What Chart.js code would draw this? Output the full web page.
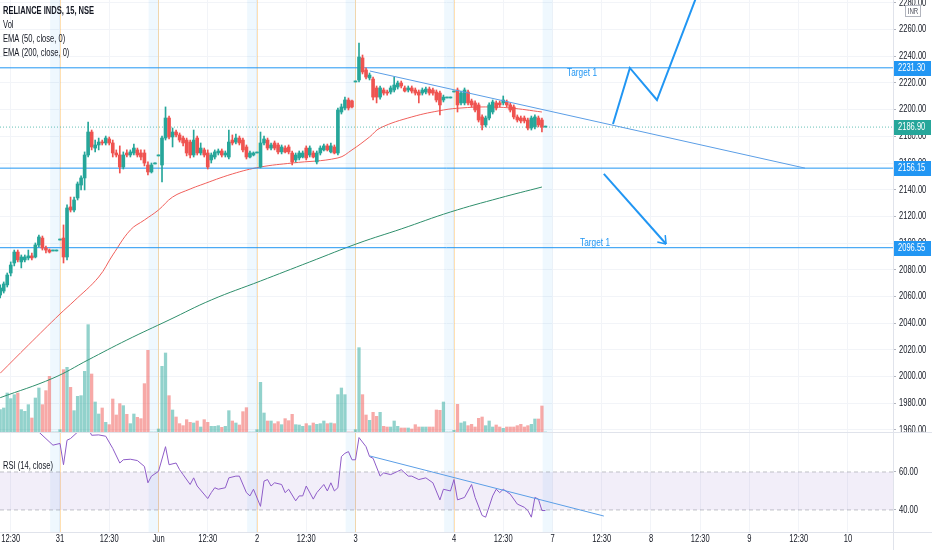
<!DOCTYPE html>
<html>
<head>
<meta charset="utf-8">
<script src="https://cdn.jsdelivr.net/npm/chart.js@4.4.0/dist/chart.umd.min.js"></script>
<style>
  html, body { margin: 0; padding: 0; background: #fff; }
  #wrap { position: relative; width: 932px; height: 550px; overflow: hidden; background: #fff; }
  #priceCanvas { position: absolute; left: 0; top: 0; }
  #rsiCanvas { position: absolute; left: 0; top: 433px; }
  .sep { position: absolute; background: #e0e3eb; }
</style>
</head>
<body>
<div id="wrap">
  <canvas id="priceCanvas" width="932" height="432"></canvas>
  <canvas id="rsiCanvas" width="932" height="117"></canvas>
  <div class="sep" style="left:0;top:432px;width:932px;height:1px"></div>
  <div class="sep" style="left:0;top:532px;width:932px;height:1px"></div>
  <div class="sep" style="left:893px;top:0;width:1px;height:550px"></div>
</div>
<script>
// slot = one 15 min bar, 28 slots per session (09:00 .. 15:45), slot 0 = 31 May 09:00
const firstSlot = -17;

const opens = [
  2061.1, 2064.1, 2068.7, 2077.6, 2085.1, 2093.3, 2085.9, 2087.4, 2088.9, 2090.4, 2089.6, 2098.6, 2103.8, 2096.3, 2094.8, 2094.1, 2094.1,
  2102.3, 2103.8, 2089.6, 2127.1, 2124.8, 2133.8, 2143.5, 2148.8, 2166.0, 2183.2, 2171.2, 2173.5, 2175.7, 2175.0, 2178.0, 2175.0, 2167.5, 2166.0, 2157.0, 2167.5, 2166.0, 2167.5, 2169.8, 2167.5, 2167.5, 2158.5, 2153.3, 2159.3,
  2165.3, 2158.5, 2178.7, 2193.7, 2179.5, 2183.2, 2181.0, 2178.7, 2177.2, 2175.7, 2166.0, 2178.7, 2167.5, 2169.8, 2167.5, 2162.3, 2164.5, 2167.5, 2169.0, 2166.0, 2164.5, 2177.2, 2175.7, 2178.7, 2177.2, 2172.0, 2164.5, 2166.0,
  2167.5, 2157.0, 2175.0, 2177.2, 2171.2, 2175.0, 2173.5, 2168.3, 2171.2, 2172.0, 2167.5, 2162.3, 2163.8, 2164.5, 2171.2, 2166.0, 2167.5, 2160.8, 2167.5, 2169.8, 2172.8, 2168.3, 2172.0, 2167.5, 2198.2, 2201.2, 2207.2, 2206.5,
  2220.7, 2222.2, 2238.7, 2229.7, 2223.7, 2222.9, 2216.2, 2209.4, 2214.7, 2213.2, 2213.2, 2214.7, 2216.9, 2219.9, 2216.2, 2214.7, 2216.2, 2214.7, 2213.2, 2212.4, 2213.2, 2215.4, 2214.7, 2213.2, 2212.4, 2207.2, 2208.7, 2208.7,
  2213.2, 2214.7, 2205.0, 2205.0, 2213.2, 2206.5, 2205.0, 2203.5, 2194.5, 2188.5, 2193.7, 2198.2, 2205.0, 2205.0, 2205.0, 2205.7, 2203.5, 2202.0, 2194.5, 2193.7, 2193.7, 2192.2, 2186.2, 2187.0, 2193.7, 2192.2, 2186.9
];
const highs = [
  2068.7, 2070.9, 2077.6, 2085.9, 2094.8, 2094.8, 2091.1, 2091.1, 2094.8, 2092.6, 2100.1, 2106.1, 2105.3, 2097.8, 2095.6, 2094.1, 2094.1,
  2102.3, 2113.6, 2128.6, 2134.5, 2134.5, 2145.8, 2150.3, 2168.3, 2190.7, 2184.7, 2177.2, 2178.7, 2177.2, 2180.2, 2179.5, 2177.2, 2169.8, 2172.8, 2168.3, 2169.8, 2169.8, 2174.2, 2171.2, 2169.8, 2169.8, 2160.8, 2160.0, 2159.3,
  2165.3, 2180.2, 2202.0, 2195.2, 2186.2, 2184.7, 2182.5, 2180.2, 2178.7, 2177.2, 2184.7, 2180.2, 2175.0, 2171.2, 2169.8, 2167.5, 2169.8, 2170.5, 2170.5, 2169.0, 2184.7, 2181.0, 2181.7, 2180.2, 2178.7, 2173.5, 2169.0, 2168.3,
  2167.5, 2183.2, 2180.2, 2178.7, 2175.0, 2176.5, 2175.0, 2173.5, 2172.8, 2173.5, 2169.0, 2167.5, 2169.0, 2169.0, 2172.8, 2172.8, 2169.0, 2169.0, 2172.8, 2174.2, 2174.2, 2175.0, 2173.5, 2201.2, 2204.2, 2209.4, 2208.7, 2207.2,
  2220.7, 2249.9, 2240.9, 2231.2, 2227.4, 2224.4, 2217.7, 2217.7, 2216.2, 2214.7, 2217.7, 2224.4, 2221.4, 2221.4, 2217.7, 2217.7, 2217.7, 2216.2, 2214.7, 2216.2, 2216.9, 2216.9, 2216.2, 2214.7, 2213.9, 2210.9, 2208.7, 2208.7,
  2213.2, 2216.2, 2213.9, 2216.2, 2214.7, 2207.9, 2206.5, 2205.0, 2196.0, 2195.2, 2205.0, 2207.2, 2206.5, 2206.5, 2210.2, 2207.2, 2205.0, 2203.5, 2196.0, 2195.2, 2195.2, 2193.7, 2195.2, 2196.0, 2195.2, 2193.7, 2186.9
];
const lows = [
  2058.9, 2062.6, 2067.1, 2075.4, 2082.9, 2085.9, 2081.4, 2085.9, 2087.4, 2087.4, 2088.9, 2097.1, 2094.8, 2092.6, 2092.6, 2094.1, 2094.1,
  2102.3, 2085.1, 2087.4, 2123.3, 2123.3, 2132.3, 2139.8, 2139.8, 2164.5, 2169.8, 2168.3, 2169.8, 2173.5, 2173.5, 2173.5, 2164.5, 2164.5, 2152.5, 2155.5, 2164.5, 2164.5, 2166.0, 2164.5, 2162.3, 2157.8, 2151.0, 2152.5, 2159.3,
  2165.3, 2145.8, 2177.2, 2178.0, 2172.0, 2179.5, 2175.7, 2172.8, 2165.3, 2163.8, 2164.5, 2166.0, 2166.0, 2164.5, 2155.5, 2160.0, 2163.0, 2166.0, 2164.5, 2164.5, 2163.0, 2173.5, 2174.2, 2173.5, 2168.3, 2163.0, 2163.8, 2165.3,
  2167.5, 2156.3, 2173.5, 2169.8, 2169.8, 2169.8, 2166.8, 2166.8, 2167.5, 2166.8, 2158.5, 2160.8, 2162.3, 2163.8, 2162.3, 2164.5, 2163.8, 2159.3, 2166.0, 2169.0, 2169.0, 2167.5, 2166.8, 2166.0, 2196.7, 2199.7, 2199.7, 2201.2,
  2220.7, 2220.7, 2226.7, 2222.9, 2222.2, 2207.2, 2205.0, 2207.9, 2210.9, 2210.9, 2211.7, 2213.2, 2215.4, 2216.2, 2213.2, 2213.2, 2212.4, 2210.9, 2205.0, 2210.9, 2211.7, 2210.9, 2210.9, 2205.7, 2196.0, 2205.7, 2208.7, 2208.7,
  2213.2, 2198.2, 2203.5, 2203.5, 2203.5, 2202.0, 2198.2, 2190.7, 2184.7, 2187.0, 2192.2, 2196.7, 2199.7, 2202.0, 2203.5, 2202.0, 2198.2, 2193.0, 2190.7, 2190.0, 2190.0, 2184.7, 2184.7, 2185.5, 2187.0, 2183.2, 2186.9
];
const closes = [
  2066.4, 2069.4, 2076.1, 2083.6, 2093.3, 2087.4, 2089.6, 2089.6, 2090.4, 2088.9, 2098.6, 2104.6, 2096.3, 2094.8, 2093.3, 2094.1, 2094.1,
  2102.3, 2089.6, 2126.3, 2124.8, 2132.3, 2144.3, 2148.8, 2166.0, 2183.2, 2172.0, 2173.5, 2175.7, 2175.0, 2178.7, 2175.0, 2167.5, 2166.0, 2157.0, 2166.0, 2166.0, 2168.3, 2171.2, 2166.0, 2164.5, 2160.0, 2153.3, 2158.5, 2159.3,
  2165.3, 2178.7, 2193.7, 2179.5, 2183.2, 2181.0, 2177.2, 2175.0, 2167.5, 2166.0, 2177.2, 2167.5, 2171.2, 2166.0, 2157.0, 2166.0, 2168.3, 2169.0, 2166.0, 2167.5, 2175.7, 2175.0, 2178.7, 2175.0, 2169.8, 2164.5, 2167.5, 2167.5,
  2167.5, 2175.0, 2178.0, 2171.2, 2173.5, 2171.2, 2168.3, 2172.0, 2168.3, 2168.3, 2160.8, 2166.0, 2167.5, 2167.5, 2163.8, 2171.2, 2164.5, 2167.5, 2171.2, 2172.8, 2169.8, 2172.8, 2167.5, 2199.7, 2202.0, 2207.2, 2201.2, 2202.0,
  2220.7, 2239.4, 2228.2, 2224.4, 2225.9, 2209.4, 2209.4, 2216.2, 2212.4, 2212.4, 2216.2, 2218.4, 2219.9, 2217.7, 2213.9, 2216.2, 2213.9, 2212.4, 2210.9, 2214.7, 2215.4, 2212.4, 2212.4, 2207.2, 2203.5, 2209.4, 2208.7, 2208.7,
  2213.2, 2203.5, 2212.4, 2214.7, 2205.0, 2203.5, 2199.7, 2192.2, 2188.5, 2193.7, 2203.5, 2205.7, 2201.2, 2203.5, 2207.2, 2203.5, 2199.7, 2194.5, 2192.2, 2191.5, 2191.5, 2186.2, 2193.7, 2194.5, 2188.5, 2186.9, 2186.9
];
// volume, thousands of shares
const volumes = [
  67, 72, 117, 100, 112, 117, 67, 62, 82, 42, 102, 132, 82, 124, 167, 0, 0,
  7, 187, 194, 134, 64, 107, 109, 182, 322, 174, 90, 54, 72, 29, 22, 99, 51, 85, 79, 53, 25, 54, 44, 40, 145, 245, 0, 0,
  9, 197, 237, 109, 66, 45, 25, 19, 37, 29, 27, 33, 15, 37, 29, 17, 17, 19, 14, 17, 64, 33, 27, 21, 61, 73, 0, 0,
  7, 149, 57, 33, 33, 25, 31, 22, 40, 34, 53, 22, 21, 17, 25, 19, 27, 23, 25, 33, 25, 27, 25, 112, 132, 112, 0, 0,
  7, 253, 112, 51, 35, 59, 47, 59, 17, 15, 15, 33, 17, 12, 12, 12, 9, 22, 15, 15, 15, 15, 15, 66, 65, 90, 0, 0,
  5, 83, 27, 31, 19, 23, 15, 41, 45, 19, 33, 15, 21, 15, 11, 15, 15, 15, 19, 23, 15, 19, 23, 39, 39, 78, 0
];

const ema50Slots  = [-17, -9, 0, 4, 11, 15, 20, 24, 28, 32, 37, 40, 49, 57, 66, 79, 83, 88, 91, 100, 109, 114, 121, 128, 137];
const ema50Values = [2002.5, 2023.6, 2046.9, 2056.6, 2074.6, 2091.1, 2109.8, 2117.3, 2124.8, 2134.5, 2140.5, 2143.5, 2151.8, 2157.0, 2160.0, 2163.8, 2169.8, 2179.5, 2186.2, 2194.5, 2199.7, 2201.2, 2202.0, 2201.2, 2198.2];
const ema200Slots  = [-17, -2, 8, 19, 31, 43, 57, 71, 85, 97, 111, 125, 137];
const ema200Values = [1984.2, 1998.8, 2012.5, 2027.4, 2042.4, 2057.4, 2071.6, 2085.9, 2100.1, 2110.6, 2123.3, 2133.8, 2142.0];

const rsiSlots = [-17, -11, -6, -2, 0, 1, 2, 3, 5, 6, 8, 9, 11, 13, 15, 17, 18, 20, 22, 24, 25, 26, 28, 30, 31, 33, 34, 35, 37, 38, 39,
  42, 43, 44, 45, 47, 48, 50, 51, 53, 54, 55, 57, 58, 59, 60, 61, 63, 64, 65, 67, 68, 69, 70, 72, 73, 75, 76, 77, 78, 79,
  80, 81, 82, 83, 84, 85, 87, 88, 89, 91, 92, 94, 96, 97, 99, 100, 102, 104, 106, 108, 109, 111, 112, 113, 115, 117, 118,
  120, 121, 123, 124, 125, 126, 128, 130, 132, 133, 134, 135, 136, 137, 138];
const rsiValues = [86, 85, 81.0, 74.1, 75.0, 63.8, 76.7, 77.6, 81.0, 84.0, 83.0, 79.3, 79.5, 78.8, 72.4, 64.7, 66.4, 66.7, 66.0, 62.9, 54.3, 57.8, 60.3, 73.3, 63.8, 64.7, 61.2, 58.6, 53.4, 56.9, 52.6,
  46.0, 49.1, 51.7, 50.9, 51.7, 56.9, 57.8, 57.8, 49.1, 47.4, 50.9, 41.9, 55.2, 56.0, 52.6, 54.3, 53.4, 49.1, 50.9, 44.8, 47.4, 47.4, 52.6, 45.7, 49.1, 53.4, 50.0, 54.3, 50.0, 51.7,
  68.1, 69.8, 70.7, 66.4, 66.4, 78.1, 73.3, 68.1, 67.2, 57.8, 59.5, 58.6, 60.3, 61.2, 57.8, 57.8, 56.0, 56.9, 54.3, 45.3, 50.9, 50.0, 56.0, 45.3, 46.6, 53.4, 46.6,
  37.1, 36.2, 47.4, 50.9, 49.1, 50.9, 48.3, 43.1, 41.4, 39.7, 36.2, 46.6, 45.7, 39.7, 39.7];

const priceTicks = [1960, 1980, 2000, 2020, 2040, 2060, 2080, 2100, 2120, 2140, 2160, 2180, 2200, 2220, 2240, 2260, 2280];
const rsiTicks = [40, 60];
const xTickSlots  = [-14, 0, 14, 28, 42, 56, 70, 84, 112, 126, 140, 154, 168, 182, 196, 210, 224];
const xTickLabels = ['12:30', '31', '12:30', 'Jun', '12:30', '2', '12:30', '3', '4', '12:30', '7', '12:30', '8', '12:30', '9', '12:30', '10'];
const sessionStarts = [0, 28, 56, 84, 112, 140];
const openMarks = [0, 28, 56, 84, 112];

const hLevels = [2231.30, 2156.15, 2096.55];
const lastPrice = 2186.90;
const trendSlots = [88.1, 211.8], trendValues = [2228.9, 2156.15];
const upPathSlots = [157.2, 162.0, 169.7, 181.1], upPathValues = [2189.2, 2231.2, 2207.2, 2285.8];
const downPathSlots = [154.6, 172.3], downPathValues = [2151.8, 2099.3];
const rsiTrendSlots = [88.1, 154.6], rsiTrendValues = [68.4, 36.8];
const targetSlots = [148.4, 152.1], targetValues = [2227.4, 2100.1], targetTexts = ['Target 1', 'Target 1'];

const xMin = -17.055, xMax = 236.8;
const FONT = "'Liberation Sans', Arial, sans-serif";
const SQUASH = 0.72;   // the screenshot text is horizontally condensed
const textColor = '#131722';
const gridColor = '#f2f4f8';
const upColor = '#26a69a', downColor = '#ef5350';
const lineBlue = '#2196f3';

const isUp = i => closes[i] >= opens[i];
const pts = (xs, ys) => xs.map((x, i) => ({ x: x, y: ys[i] }));
const flat = v => [{ x: xMin, y: v }, { x: xMax, y: v }];

function squashText(ctx, text, x, y, size, opts) {
  opts = opts || {};
  ctx.save();
  ctx.font = (opts.bold ? 'bold ' : '') + size + 'px ' + FONT;
  ctx.fillStyle = opts.color || textColor;
  ctx.textBaseline = 'middle';
  ctx.textAlign = opts.align || 'left';
  ctx.translate(x, y);
  ctx.scale(SQUASH, 1);
  ctx.fillText(text, 0, 0);
  ctx.restore();
}

function noPad(s) {
  s.paddingLeft = 0; s.paddingRight = 0; s.paddingTop = 0; s.paddingBottom = 0;
}

const sessionPlugin = {
  id: 'sessions',
  beforeDatasetsDraw(chart) {
    const { ctx, chartArea: a, scales: { x } } = chart;
    ctx.save();
    ctx.beginPath();
    ctx.rect(a.left, a.top, a.width, a.height);
    ctx.clip();
    ctx.fillStyle = 'rgba(33,150,243,0.07)';
    sessionStarts.forEach(d => {
      const x0 = x.getPixelForValue(d - 2.8), x1 = x.getPixelForValue(d);
      ctx.fillRect(x0, a.top, x1 - x0, a.height);
    });
    ctx.strokeStyle = 'rgba(255,152,0,0.3)';
    ctx.lineWidth = 1;
    openMarks.forEach(d => {
      const px = Math.round(x.getPixelForValue(d)) + 0.5;
      ctx.beginPath();
      ctx.moveTo(px, a.top);
      ctx.lineTo(px, a.bottom);
      ctx.stroke();
    });
    ctx.restore();
  }
};

// tick labels of the right hand scale and the time scale, drawn condensed
const axisText = {
  id: 'axisText',
  afterDatasetsDraw(chart) {
    const { ctx, chartArea: a } = chart;
    Object.values(chart.scales).forEach(s => {
      if (s.axis === 'y' && s.options.display !== false) {
        s.ticks.forEach(t => squashText(ctx, t.value.toFixed(2), a.right + 6, s.getPixelForValue(t.value), 10.5));
      }
      if (s.axis === 'x' && chart.canvas.id === 'rsiCanvas') {
        s.ticks.forEach((t, i) => squashText(ctx, xTickLabels[i], s.getPixelForValue(t.value), a.bottom + 7, 10.5, { align: 'center' }));
      }
    });
  }
};

function axisBox(ctx, y, text, color) {
  ctx.fillStyle = color;
  ctx.fillRect(893, Math.round(y) - 7, 38, 15);
  squashText(ctx, text, 898, Math.round(y) + 0.5, 10.5, { color: '#fff' });
}

const priceOverlay = {
  id: 'priceOverlay',
  afterDraw(chart) {
    const { ctx, scales: { x, y } } = chart;
    ctx.save();
    squashText(ctx, 'RELIANCE INDS, 15, NSE', 3, 11, 10.5, { bold: true });
    squashText(ctx, 'Vol', 3, 25, 10.5);
    squashText(ctx, 'EMA (50, close, 0)', 3, 39, 10.5);
    squashText(ctx, 'EMA (200, close, 0)', 3, 53, 10.5);

    targetTexts.forEach((t, i) => {
      squashText(ctx, t, x.getPixelForValue(targetSlots[i]), y.getPixelForValue(targetValues[i]), 11.5, { color: lineBlue, align: 'center' });
    });

    // arrow head on the lower path
    const n = downPathSlots.length;
    const ex = x.getPixelForValue(downPathSlots[n - 1]), ey = y.getPixelForValue(downPathValues[n - 1]);
    const sx = x.getPixelForValue(downPathSlots[n - 2]), sy = y.getPixelForValue(downPathValues[n - 2]);
    const ang = Math.atan2(ey - sy, ex - sx);
    ctx.strokeStyle = lineBlue;
    ctx.lineWidth = 1.5;
    ctx.beginPath();
    [ang + Math.PI * 0.8, ang - Math.PI * 0.8].forEach(r => {
      ctx.moveTo(ex, ey);
      ctx.lineTo(ex + 9 * Math.cos(r), ey + 9 * Math.sin(r));
    });
    ctx.stroke();

    hLevels.forEach(v => axisBox(ctx, y.getPixelForValue(v), v.toFixed(2), lineBlue));
    axisBox(ctx, y.getPixelForValue(lastPrice), lastPrice.toFixed(2), upColor);

    // currency tag
    ctx.fillStyle = '#fff';
    ctx.strokeStyle = '#b2b5be';
    ctx.lineWidth = 1;
    ctx.fillRect(905.5, 5.5, 15, 11);
    ctx.strokeRect(905.5, 5.5, 15, 11);
    squashText(ctx, 'INR', 913, 11.5, 8.5, { color: '#50535e', align: 'center' });
    ctx.restore();
  }
};

const rsiOverlay = {
  id: 'rsiOverlay',
  afterDraw(chart) {
    squashText(chart.ctx, 'RSI (14, close)', 3, 33, 10.5);
  }
};

new Chart(document.getElementById('priceCanvas'), {
  type: 'bar',
  data: {
    datasets: [
      { type: 'line', data: pts(trendSlots, trendValues), borderColor: '#5b9ee6', borderWidth: 1, pointRadius: 0, order: 1 },
      { type: 'line', data: pts(upPathSlots, upPathValues), borderColor: lineBlue, borderWidth: 2, pointRadius: 0, order: 1 },
      { type: 'line', data: pts(downPathSlots, downPathValues), borderColor: lineBlue, borderWidth: 2, pointRadius: 0, order: 1 },
      { label: 'bodies', data: opens.map((o, i) => ({ x: firstSlot + i, y: [o, closes[i]] })),
        backgroundColor: c => isUp(c.dataIndex) ? upColor : downColor,
        barThickness: 3, minBarLength: 1, grouped: false, order: 2 },
      { label: 'wicks', data: lows.map((l, i) => ({ x: firstSlot + i, y: [l, highs[i]] })),
        backgroundColor: c => isUp(c.dataIndex) ? upColor : downColor,
        barThickness: 1, minBarLength: 1, grouped: false, order: 3 },
      ...hLevels.map(v => ({ type: 'line', data: flat(v), borderColor: lineBlue, borderWidth: 1, pointRadius: 0, order: 4 })),
      { type: 'line', data: flat(lastPrice), borderColor: 'rgba(38,166,154,0.7)', borderDash: [1, 2], borderWidth: 1, pointRadius: 0, order: 4 },
      { type: 'line', label: 'EMA 50', data: pts(ema50Slots, ema50Values), borderColor: '#f0605c', borderWidth: 1, pointRadius: 0, tension: 0.4, order: 5 },
      { type: 'line', label: 'EMA 200', data: pts(ema200Slots, ema200Values), borderColor: '#2f8f6c', borderWidth: 1, pointRadius: 0, tension: 0.4, order: 5 },
      { label: 'Vol', yAxisID: 'vol', data: volumes.map((v, i) => ({ x: firstSlot + i, y: v })),
        backgroundColor: c => isUp(c.dataIndex) ? 'rgba(38,166,154,0.5)' : 'rgba(239,83,80,0.5)',
        barThickness: 2.6, grouped: false, order: 10 }
    ]
  },
  options: {
    responsive: false,
    animation: false,
    devicePixelRatio: 1,
    layout: { padding: 0 },
    plugins: { legend: { display: false }, tooltip: { enabled: false } },
    scales: {
      x: {
        type: 'linear', min: xMin, max: xMax, offset: false,
        afterBuildTicks: s => { s.ticks = xTickSlots.map(v => ({ value: v })); },
        ticks: { display: false },
        grid: { color: gridColor, drawTicks: false, offset: false },
        border: { display: false },
        afterFit: s => { s.height = 0; noPad(s); }
      },
      y: {
        position: 'right', min: 1958.5, max: 2282.1,
        afterBuildTicks: s => { s.ticks = priceTicks.map(v => ({ value: v })); },
        ticks: { display: false },
        grid: { color: gridColor, tickLength: 3, tickColor: '#b2b5be' },
        border: { display: false },
        afterFit: s => { s.width = 39; noPad(s); }
      },
      vol: { display: false, min: 0, max: 1296, afterFit: s => { s.width = 0; noPad(s); } }
    }
  },
  plugins: [sessionPlugin, axisText, priceOverlay]
});

new Chart(document.getElementById('rsiCanvas'), {
  type: 'line',
  data: {
    datasets: [
      { data: pts(rsiTrendSlots, rsiTrendValues), borderColor: '#5b9ee6', borderWidth: 1, pointRadius: 0, yAxisID: 'rsi' },
      { label: 'RSI', data: pts(rsiSlots, rsiValues), borderColor: '#8e5cc8', borderWidth: 1, pointRadius: 0, yAxisID: 'rsi' },
      { data: flat(60), borderColor: 'rgba(120,123,134,0.45)', borderDash: [4, 3], borderWidth: 1, pointRadius: 0, yAxisID: 'rsi' },
      { data: flat(40), borderColor: 'rgba(120,123,134,0.45)', borderDash: [4, 3], borderWidth: 1, pointRadius: 0, yAxisID: 'rsi',
        fill: '-1', backgroundColor: 'rgba(126,87,194,0.1)' }
    ]
  },
  options: {
    responsive: false,
    animation: false,
    devicePixelRatio: 1,
    layout: { padding: 0 },
    plugins: { legend: { display: false }, tooltip: { enabled: false } },
    scales: {
      x: {
        type: 'linear', min: xMin, max: xMax, offset: false,
        afterBuildTicks: s => { s.ticks = xTickSlots.map(v => ({ value: v })); },
        ticks: { display: false },
        grid: { color: gridColor, drawTicks: false, offset: false },
        border: { display: false },
        afterFit: s => { s.height = 18; noPad(s); }
      },
      rsi: {
        position: 'right', min: 28.4, max: 80.5,
        afterBuildTicks: s => { s.ticks = rsiTicks.map(v => ({ value: v })); },
        ticks: { display: false },
        grid: { drawOnChartArea: false, tickLength: 3, tickColor: '#b2b5be' },
        border: { display: false },
        afterFit: s => { s.width = 39; noPad(s); }
      }
    }
  },
  plugins: [sessionPlugin, axisText, rsiOverlay]
});
</script>
</body>
</html>
